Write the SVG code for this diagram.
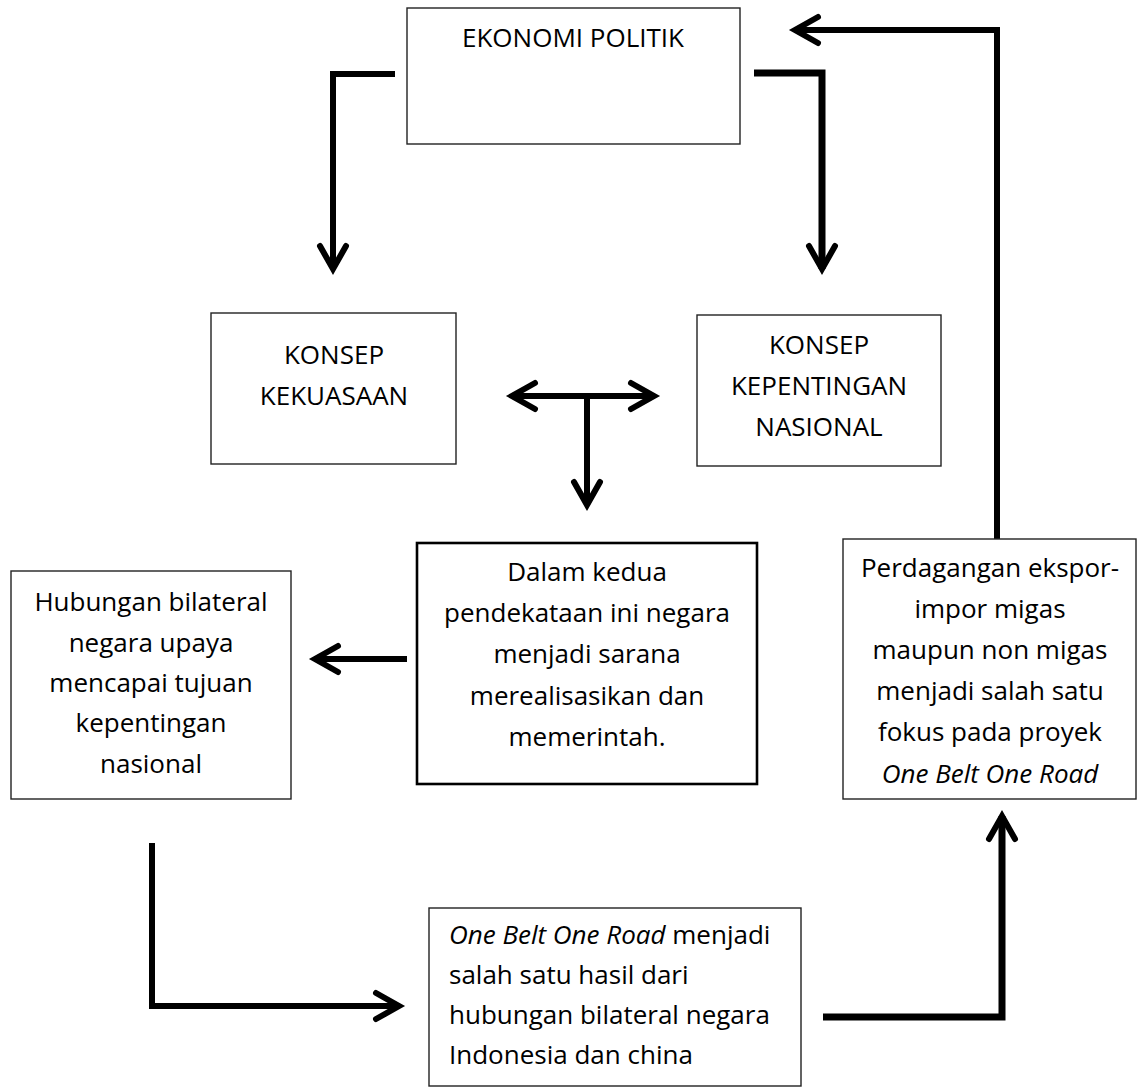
<svg xmlns="http://www.w3.org/2000/svg" width="1138" height="1088" viewBox="0 0 1138 1088">
<style>
  .box { fill: #fff; stroke: #222; stroke-width: 1.4; }
  .boxb { fill: #fff; stroke: #000; stroke-width: 2.6; }
  .t { font-family: "Open Sans", "Liberation Sans", sans-serif; font-size: 26px; fill: #000; }
  .c { text-anchor: middle; }
  .i { font-style: italic; }
  .con { fill: none; stroke: #000; stroke-width: 6; stroke-linejoin: miter; }
</style>
<defs>
  <marker id="chev" viewBox="-40 -20 50 40" refX="0" refY="0" markerWidth="50" markerHeight="40" markerUnits="userSpaceOnUse" orient="auto-start-reverse">
    <path d="M -23 -13 L 0 0 L -23 13" fill="none" stroke="#000" stroke-width="6" stroke-linecap="round" stroke-linejoin="miter"/>
  </marker>
</defs>
<rect width="1138" height="1088" fill="#fff"/>

<g id="connectors">
  <path class="con" d="M 395 74 H 333 V 269" marker-end="url(#chev)"/>
  <path class="con" d="M 754 73 H 822 V 269" marker-end="url(#chev)" style="stroke-width:7"/>
  <path class="con" d="M 997 539 V 30 H 795" marker-end="url(#chev)"/>
  <path class="con" d="M 512 396 H 654" marker-start="url(#chev)" marker-end="url(#chev)"/>
  <path class="con" d="M 587 396 V 505" marker-end="url(#chev)"/>
  <path class="con" d="M 407 659 H 315" marker-end="url(#chev)"/>
  <path class="con" d="M 152 843 V 1006 H 399" marker-end="url(#chev)"/>
  <path class="con" d="M 823 1017 H 1002 V 816" marker-end="url(#chev)" style="stroke-width:7"/>
</g>

<g id="ekonomi-politik">
  <rect class="box" x="407" y="8" width="333" height="136"/>
  <text class="t c" x="573" y="47">EKONOMI POLITIK</text>
</g>

<g id="konsep-kekuasaan">
  <rect class="box" x="211" y="313" width="245" height="151"/>
  <text class="t c" x="334" y="364">KONSEP</text>
  <text class="t c" x="334" y="405">KEKUASAAN</text>
</g>

<g id="konsep-kepentingan">
  <rect class="box" x="697" y="315" width="244" height="151"/>
  <text class="t c" x="819" y="354">KONSEP</text>
  <text class="t c" x="819" y="395">KEPENTINGAN</text>
  <text class="t c" x="819" y="436">NASIONAL</text>
</g>

<g id="dalam-kedua">
  <rect class="boxb" x="417" y="543" width="340" height="241"/>
  <text class="t c" x="587" y="581">Dalam kedua</text>
  <text class="t c" x="587" y="622">pendekataan ini negara</text>
  <text class="t c" x="587" y="663">menjadi sarana</text>
  <text class="t c" x="587" y="705">merealisasikan dan</text>
  <text class="t c" x="587" y="746">memerintah.</text>
</g>

<g id="hubungan-bilateral">
  <rect class="box" x="11" y="571" width="280" height="228"/>
  <text class="t c" x="151" y="611">Hubungan bilateral</text>
  <text class="t c" x="151" y="652">negara upaya</text>
  <text class="t c" x="151" y="692">mencapai tujuan</text>
  <text class="t c" x="151" y="732">kepentingan</text>
  <text class="t c" x="151" y="773">nasional</text>
</g>

<g id="perdagangan">
  <rect class="box" x="843" y="539" width="293" height="260"/>
  <text class="t c" x="990" y="577">Perdagangan ekspor-</text>
  <text class="t c" x="990" y="618">impor migas</text>
  <text class="t c" x="990" y="659">maupun non migas</text>
  <text class="t c" x="990" y="700">menjadi salah satu</text>
  <text class="t c" x="990" y="741">fokus pada proyek</text>
  <text class="t c i" x="990" y="783">One Belt One Road</text>
</g>

<g id="obor">
  <rect class="box" x="429" y="908" width="372" height="178"/>
  <text class="t" x="449" y="944"><tspan class="i">One Belt One Road</tspan> menjadi</text>
  <text class="t" x="449" y="984">salah satu hasil dari</text>
  <text class="t" x="449" y="1024">hubungan bilateral negara</text>
  <text class="t" x="449" y="1064">Indonesia dan china</text>
</g>
</svg>
